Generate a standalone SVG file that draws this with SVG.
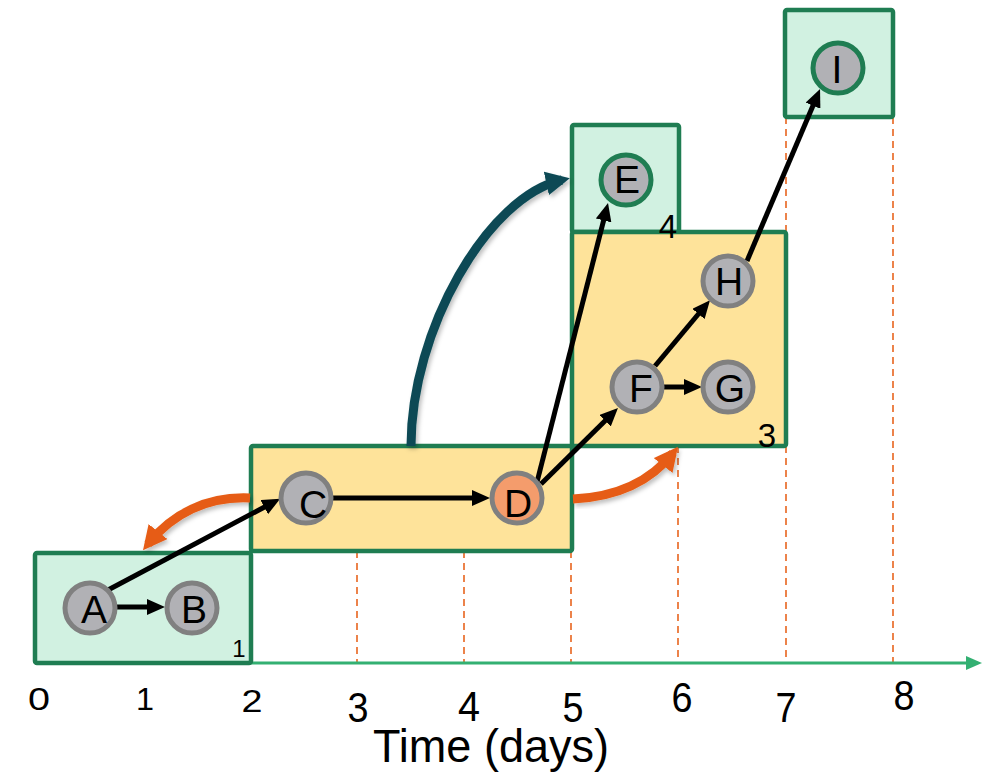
<svg xmlns="http://www.w3.org/2000/svg" width="989" height="772" viewBox="0 0 989 772">
  <style>
    .grn{fill:#d1f1e1;stroke:#1f7d52;stroke-width:4.5}
    .yel{fill:#fee39a;stroke:#1f7d52;stroke-width:4.5}
    .dash{stroke:#e8641e;stroke-width:1.6;stroke-dasharray:7 5;fill:none}
    .axis{stroke:#33b072;stroke-width:3;fill:none}
    .node{fill:#b1b1b5;stroke:#808080;stroke-width:5}
    .hot{fill:#f49c6c}
    .term{stroke:#1f7d52}
    .lbl{font-family:"Liberation Sans",Arial,sans-serif;font-size:39px;text-anchor:middle;fill:#000}
    .tick{font-family:"Liberation Sans",Arial,sans-serif;font-size:43px;text-anchor:middle;fill:#000}
    .tick0{font-family:"Liberation Sans",Arial,sans-serif;font-size:32px;text-anchor:middle;fill:#000}
    .edge{stroke:#000;stroke-width:5;fill:none;marker-end:url(#ah)}
    .move{stroke:#e65c14;stroke-width:9;fill:none;marker-end:url(#ahOrange);filter:url(#sh)}
    .jump{stroke:#0b4a55;stroke-width:9;fill:none;marker-end:url(#ahTeal);filter:url(#sh)}
  </style>
  <defs>
    <marker id="ah" markerUnits="userSpaceOnUse" viewBox="0 0 18 16" markerWidth="18" markerHeight="16" refX="11" refY="8" orient="auto">
      <path d="M0,0 L18,8 L0,16 z" fill="#000"/>
    </marker>
    <marker id="ahOrange" markerUnits="userSpaceOnUse" viewBox="0 0 24 24" markerWidth="24" markerHeight="24" refX="16" refY="12" orient="auto">
      <path d="M0,0 L24,12 L0,24 z" fill="#e65c14"/>
    </marker>
    <marker id="ahTeal" markerUnits="userSpaceOnUse" viewBox="0 0 24 24" markerWidth="24" markerHeight="24" refX="16" refY="12" orient="auto">
      <path d="M0,0 L24,12 L0,24 z" fill="#0b4a55"/>
    </marker>
    <filter id="sh" x="-20%" y="-20%" width="140%" height="140%">
      <feDropShadow dx="2" dy="3" stdDeviation="2" flood-opacity="0.25"/>
    </filter>
  </defs>

  <rect width="989" height="772" fill="#fff"/>

  <!-- day grid lines -->
  <g id="grid">
    <line class="dash" x1="357" y1="551" x2="357" y2="663"/>
    <line class="dash" x1="464" y1="551" x2="464" y2="663"/>
    <line class="dash" x1="571" y1="551" x2="571" y2="663"/>
    <line class="dash" x1="678" y1="446" x2="678" y2="663"/>
    <line class="dash" x1="786" y1="446" x2="786" y2="663"/>
    <line class="dash" x1="786" y1="117" x2="786" y2="232"/>
    <line class="dash" x1="893" y1="117" x2="893" y2="663"/>
  </g>

  <!-- time axis -->
  <g id="axis">
    <line class="axis" x1="35" y1="663" x2="968" y2="663"/>
    <path d="M966,656 L982,663 L966,670 z" fill="#33b072"/>
    <text class="tick0" x="39" y="710" textLength="22" lengthAdjust="spacingAndGlyphs">0</text>
    <text class="tick0" x="145" y="710" textLength="18" lengthAdjust="spacingAndGlyphs">1</text>
    <text class="tick0" x="252" y="712" textLength="21" lengthAdjust="spacingAndGlyphs">2</text>
    <text class="tick" x="358" y="722" textLength="21" lengthAdjust="spacingAndGlyphs">3</text>
    <text class="tick" x="469" y="721" textLength="22" lengthAdjust="spacingAndGlyphs">4</text>
    <text class="tick" x="573" y="722" textLength="21" lengthAdjust="spacingAndGlyphs">5</text>
    <text class="tick" x="682" y="712" textLength="21" lengthAdjust="spacingAndGlyphs">6</text>
    <text class="tick" x="786" y="722" textLength="21" lengthAdjust="spacingAndGlyphs">7</text>
    <text class="tick" x="904" y="710" textLength="21" lengthAdjust="spacingAndGlyphs">8</text>
    <text x="373" y="762" font-family="Liberation Sans, Arial, sans-serif" font-size="46" fill="#000" textLength="236" lengthAdjust="spacingAndGlyphs">Time (days)</text>
  </g>

  <!-- stage boxes -->
  <g id="stage1">
    <rect class="grn" x="35" y="553" width="216" height="110" rx="2"/>
    <text x="239" y="657" font-family="Liberation Sans, Arial, sans-serif" font-size="24" text-anchor="middle">1</text>
  </g>
  <g id="stage2">
    <rect class="yel" x="251" y="446" width="321" height="105" rx="2"/>
  </g>
  <g id="stage4">
    <rect class="grn" x="572" y="125" width="107" height="107" rx="2"/>
  </g>
  <g id="stage3">
    <rect class="yel" x="572" y="232" width="214" height="214" rx="2"/>
    <text x="767" y="447" font-family="Liberation Sans, Arial, sans-serif" font-size="33" text-anchor="middle">3</text>
  </g>
  <g id="stage4-label">
    <text x="668" y="238" font-family="Liberation Sans, Arial, sans-serif" font-size="33" text-anchor="middle">4</text>
  </g>
  <g id="stage5">
    <rect class="grn" x="785" y="10" width="108" height="107" rx="2"/>
  </g>

  <!-- dependencies -->
  <g id="connectors">
    <path class="jump" d="M411,446 C411,330 488,196 562,180"/>
    <path class="move" d="M250,498 C207,496 172,514 148,544"/>
    <path class="move" d="M573,499 C615,497 650,482 673,453"/>
    <line class="edge" x1="108" y1="590" x2="274" y2="502"/>
    <line class="edge" x1="117" y1="607" x2="158" y2="607"/>
    <line class="edge" x1="333" y1="498" x2="483" y2="498"/>
    <line class="edge" x1="536" y1="486" x2="606.3" y2="209.8"/>
    <line class="edge" x1="541" y1="484" x2="613" y2="413"/>
    <line class="edge" x1="655" y1="387" x2="695" y2="387"/>
    <line class="edge" x1="655" y1="366" x2="705.5" y2="305.5"/>
    <line class="edge" x1="747" y1="261" x2="817.3" y2="95.5"/>
  </g>

  <!-- tasks -->
  <g id="A"><circle class="node" cx="90" cy="608" r="25"/><text class="lbl" x="94" y="623">A</text></g>
  <g id="B"><circle class="node" cx="192" cy="608" r="25"/><text class="lbl" x="194" y="623">B</text></g>
  <g id="C"><circle class="node" cx="306" cy="498" r="25"/><text class="lbl" x="313" y="518">C</text></g>
  <g id="D"><circle class="node hot" cx="517" cy="498" r="25"/><text class="lbl" x="518" y="517">D</text></g>
  <g id="E"><circle class="node term" cx="626" cy="180" r="25"/><text class="lbl" x="627" y="193">E</text></g>
  <g id="F"><circle class="node" cx="637" cy="387" r="25"/><text class="lbl" x="641" y="402">F</text></g>
  <g id="G"><circle class="node" cx="728" cy="387" r="25"/><text class="lbl" x="730" y="402">G</text></g>
  <g id="H"><circle class="node" cx="728" cy="281" r="25"/><text class="lbl" x="729" y="295">H</text></g>
  <g id="I"><circle class="node term" cx="838" cy="68" r="25"/><text class="lbl" x="837" y="83">I</text></g>
</svg>
